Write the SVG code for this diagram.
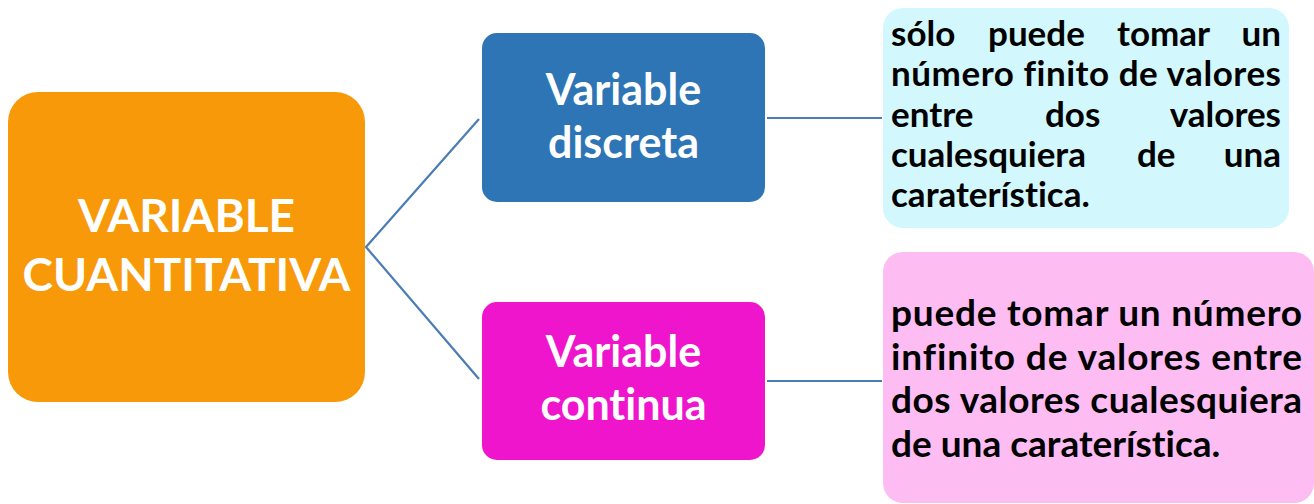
<svg xmlns="http://www.w3.org/2000/svg" width="1314" height="504" viewBox="0 0 1314 504">
<style>
.lbl,.desc{font-family:Lato,"Open Sans","Liberation Sans",sans-serif;font-weight:bold;font-variant-ligatures:none;font-feature-settings:"liga" 0,"dlig" 0}
.lbl{fill:#fff;text-anchor:middle}
.desc{fill:#000}
.conn{stroke:#4a7db4;stroke-width:2.2;fill:none}
.e{text-anchor:end}
</style>
<rect width="1314" height="504" fill="#fff"/>
<g id="connectors">
<polyline class="conn" points="479,119 366,247 479,379"/>
<line class="conn" x1="767" y1="118" x2="882" y2="118"/>
<line class="conn" x1="767" y1="381" x2="882" y2="381"/>
</g>
<g id="node-main">
<rect x="8" y="92" width="357" height="310" rx="30" fill="#f8990a"/>
<text class="lbl" font-size="46" x="186.5" y="232">VARIABLE</text>
<text class="lbl" font-size="46" x="186.5" y="291">CUANTITATIVA</text>
</g>
<g id="node-discreta">
<rect x="482" y="33" width="283" height="169" rx="15" fill="#2e75b6"/>
<text class="lbl" font-size="43" x="623.5" y="105">Variable</text>
<text class="lbl" font-size="43" x="623.5" y="158">discreta</text>
</g>
<g id="node-continua">
<rect x="482" y="302" width="283" height="158" rx="15" fill="#ee15cc"/>
<text class="lbl" font-size="43" x="623.5" y="367">Variable</text>
<text class="lbl" font-size="43" x="623.5" y="420">continua</text>
</g>
<g id="node-discreta-desc">
<rect x="883" y="8" width="406" height="220" rx="20" fill="#d2f8fd"/>
<text class="desc" font-size="35" y="46"><tspan x="891">sólo</tspan><tspan x="988">puede</tspan><tspan x="1117">tomar</tspan><tspan class="e" x="1281">un</tspan></text>
<text class="desc" font-size="35" x="891" y="86" textLength="390" lengthAdjust="spacing">número finito de valores</text>
<text class="desc" font-size="35" y="127"><tspan x="891">entre</tspan><tspan x="1045">dos</tspan><tspan class="e" x="1281">valores</tspan></text>
<text class="desc" font-size="35" y="167"><tspan x="891">cualesquiera</tspan><tspan x="1137">de</tspan><tspan class="e" x="1281">una</tspan></text>
<text class="desc" font-size="35" x="891" y="207">caraterística.</text>
</g>
<g id="node-continua-desc">
<rect x="883" y="252" width="431" height="251" rx="20" fill="#fdbdf3"/>
<text class="desc" font-size="37" x="891" y="326" textLength="411" lengthAdjust="spacing">puede tomar un número</text>
<text class="desc" font-size="37" x="891" y="370" textLength="411" lengthAdjust="spacing">infinito de valores entre</text>
<text class="desc" font-size="37" x="891" y="413" textLength="411" lengthAdjust="spacing">dos valores cualesquiera</text>
<text class="desc" font-size="37" x="891" y="457">de una caraterística.</text>
</g>
</svg>
